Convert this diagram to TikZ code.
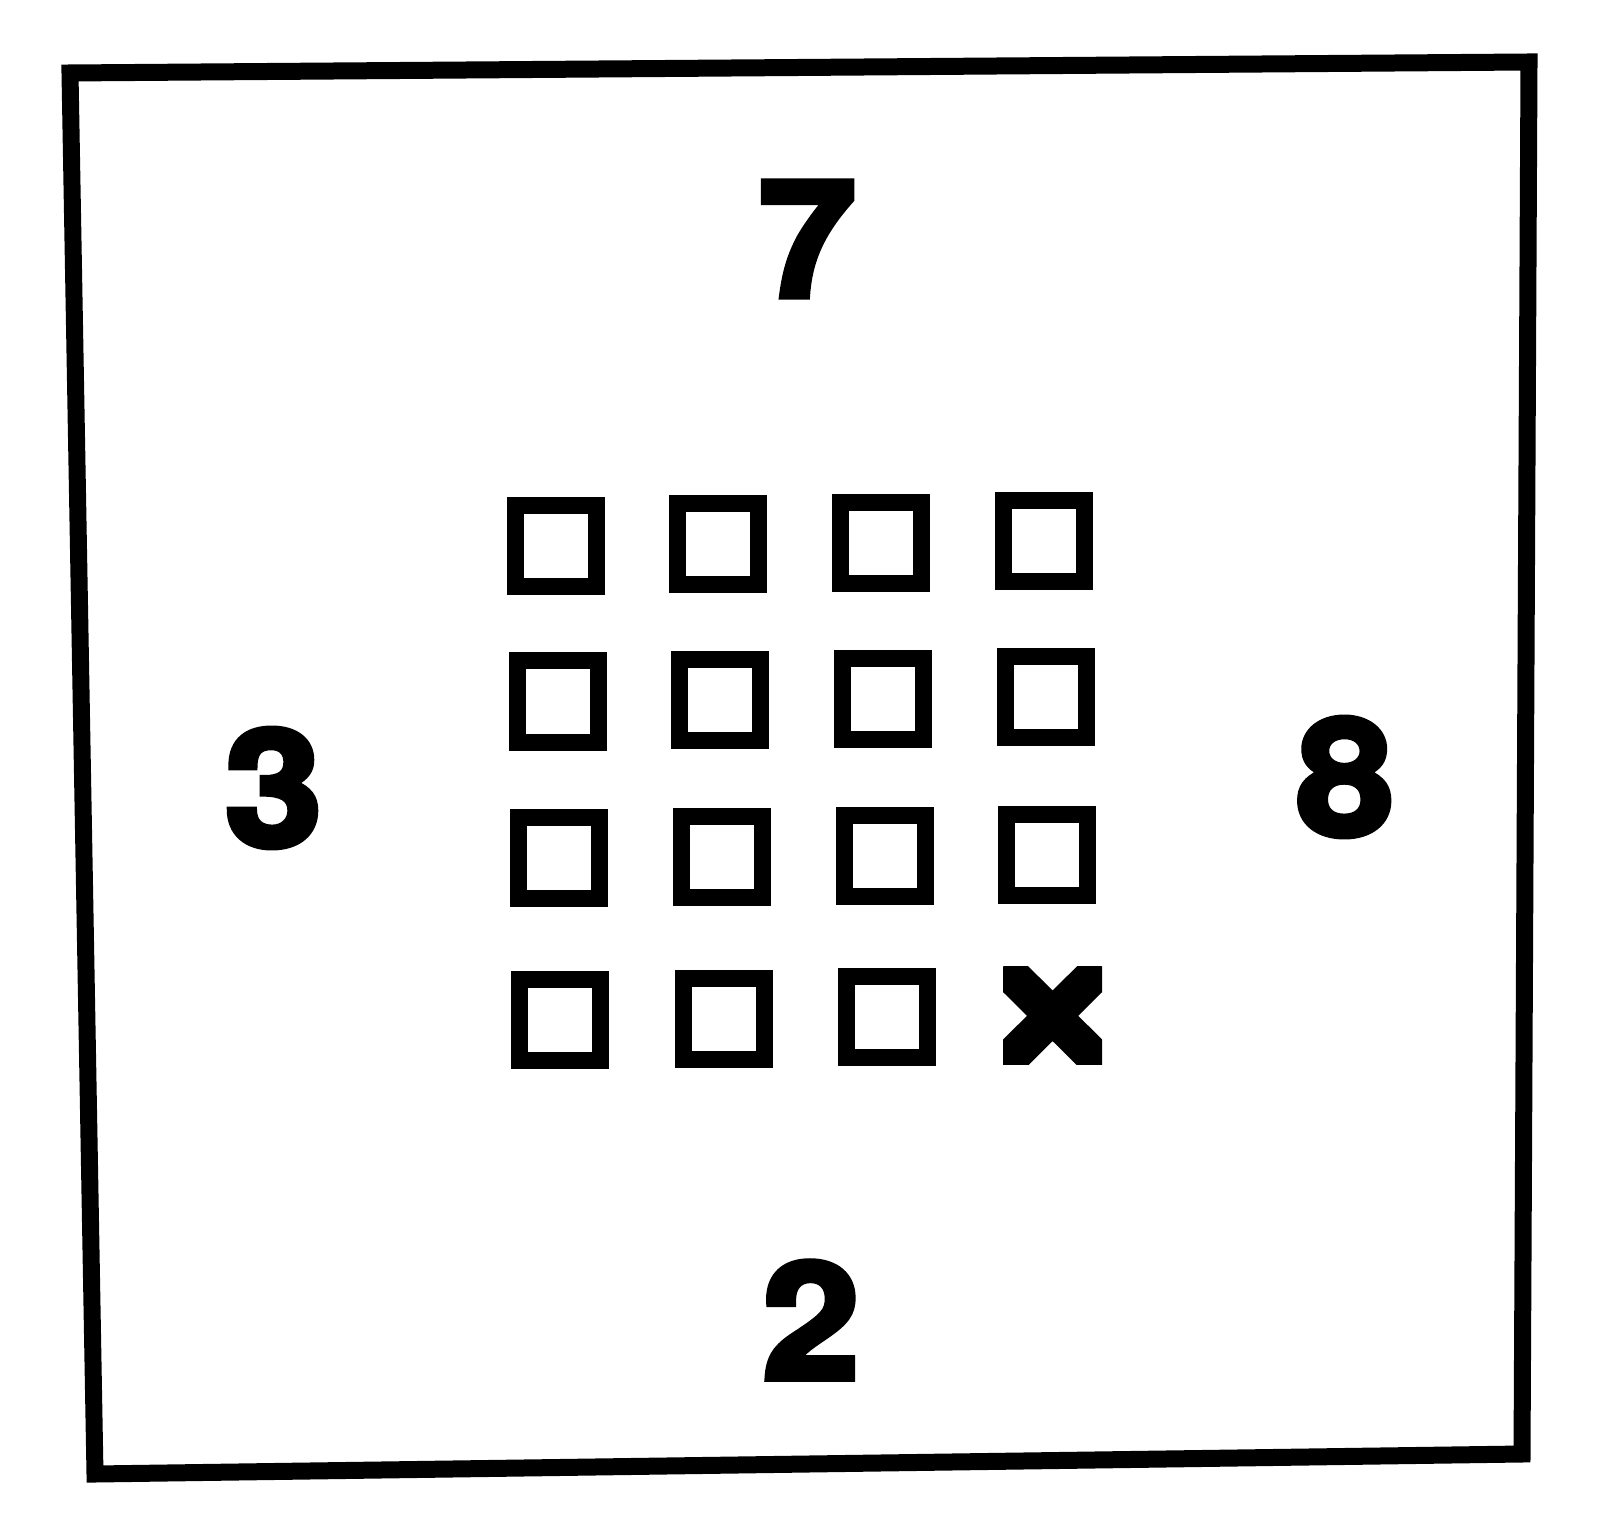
\documentclass[tikz,border=0pt]{standalone}
\usepackage{fontspec}
\usepackage{tikz}
\usetikzlibrary{positioning}
\setmainfont{Liberation Sans}
\newfontfamily\digitfont[FakeStretch=1.08,FakeBold=4]{texgyreheros-bold.otf}

\begin{document}
\begin{tikzpicture}[x=1cm, y=-1cm]
    \tikzstyle{frame} = [draw=black, line width=0.17cm, line join=miter]
    \tikzstyle{cell} = [
        draw=black,
        rectangle,
        line width=0.17cm,
        minimum size=0.81cm,
        inner sep=0pt
    ]
    \tikzstyle{cross} = [
        rectangle,
        minimum width=0.99cm,
        minimum height=0.98cm,
        inner sep=0pt,
        path picture={
            \draw[line width=0.36cm]
                (path picture bounding box.north west) -- (path picture bounding box.south east)
                (path picture bounding box.north east) -- (path picture bounding box.south west);
        }
    ]
    \tikzstyle{digit} = [inner sep=0pt, font=\digitfont\fontsize{46}{46}\selectfont]

    \useasboundingbox (0,0) rectangle (16,15.34);

    % outer frame
    \draw[frame] (0.70,0.73) -- (15.29,0.62) -- (15.22,14.54) -- (0.95,14.74) -- cycle;

    % 4 x 4 grid, last one crossed
    \node[cell] (11) at (5.560, 5.460) {};
    \node[cell] (12) at (7.184, 5.445) {};
    \node[cell] (13) at (8.811, 5.430) {};
    \node[cell] (14) at (10.444, 5.413) {};

    \node[cell] (21) at (5.575, 7.015) {};
    \node[cell] (22) at (7.203, 7.000) {};
    \node[cell] (23) at (8.830, 6.987) {};
    \node[cell] (24) at (10.459, 6.974) {};

    \node[cell] (31) at (5.590, 8.577) {};
    \node[cell] (32) at (7.222, 8.567) {};
    \node[cell] (33) at (8.849, 8.556) {};
    \node[cell] (34) at (10.474, 8.546) {};

    \node[cell] (41) at (5.602, 10.199) {};
    \node[cell] (42) at (7.240, 10.185) {};
    \node[cell] (43) at (8.867, 10.172) {};
    \node[cross] (44) at (10.526, 10.158) {};

    % numbers round the grid
    \node[digit] (top) at (8.075, 2.39) {7};
    \node[digit] (left) at (2.735, 7.88) {3};
    \node[digit] (right) at (13.45, 7.77) {8};
    \node[digit] (bottom) at (8.11, 13.20) {2};
\end{tikzpicture}
\end{document}
